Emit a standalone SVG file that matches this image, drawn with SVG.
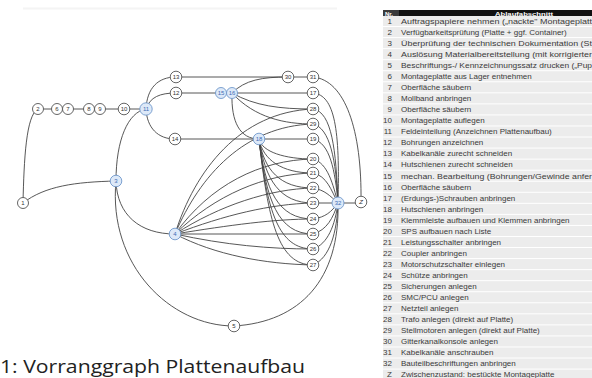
<svg xmlns="http://www.w3.org/2000/svg" width="592" height="378" viewBox="0 0 592 378">
<style>
.e{fill:none;stroke:#444;stroke-width:0.9}
.n circle{fill:#fff;stroke:#555;stroke-width:0.9}
.n text{font-family:"Liberation Sans",Arial,sans-serif;font-size:6px;fill:#333;text-anchor:middle}
.b circle{fill:#dde9f8;stroke:#7098cc}
.b text{fill:#3d6db5}
.rw{fill:#ececec}
.tn{font-family:"Liberation Sans",Arial,sans-serif;font-size:8px;fill:#3a3a3a;text-anchor:end}
.tt{font-family:"Liberation Sans",Arial,sans-serif;font-size:8px;fill:#3a3a3a}
.hd{font-family:"Liberation Sans",Arial,sans-serif;font-size:6px;font-weight:bold;fill:#fff}
</style>
<rect width="592" height="378" fill="#fff"/>
<rect x="23" y="7.5" width="314" height="2" fill="#f4f4f4"/>
<g id="connectors">
<path class="e" d="M23,203 C24,160 26,115 38,109"/>
<path class="e" d="M23,203 C45,186 75,182 116,181"/>
<path class="e" d="M38,109 H57 M68,109 H89 M100,109 H146"/>
<path class="e" d="M116,181 C116,140 128,112 146,109"/>
<path class="e" d="M116,181 C117,215 140,234 175,234"/>
<path class="e" d="M116,181 C108,265 170,326 234,326"/>
<path class="e" d="M146,109 C147,88 158,77 176,77"/>
<path class="e" d="M146,109 C150,97 160,93 176,93"/>
<path class="e" d="M146,109 C147,128 158,139 175,139"/>
<path class="e" d="M176,77 H313"/>
<path class="e" d="M176,93 H221 M232,93 H313"/>
<path class="e" d="M232,93 C245,80 262,77 288,77"/>
<path class="e" d="M232,93 C231,122 240,139 259,139"/>
<path class="e" d="M232,93 C255,106 280,109 313,109"/>
<path class="e" d="M232,93 C255,118 285,124 313,124"/>
<path class="e" d="M175,139 H313"/>
<path class="e" d="M259,139 C262,152 285,159 313,159"/>
<path class="e" d="M259,139 C263,160 282,173 313,173"/>
<path class="e" d="M259,139 C264,170 280,188 313,188"/>
<path class="e" d="M259,139 C265,180 280,203 313,203"/>
<path class="e" d="M259,139 C265,190 278,219 313,219"/>
<path class="e" d="M259,139 C266,200 278,234 313,234"/>
<path class="e" d="M259,139 C267,210 278,249 313,249"/>
<path class="e" d="M259,139 C268,220 278,265 313,265"/>
<path class="e" d="M175,234 C195,170 240,112 313,109"/>
<path class="e" d="M175,234 C200,175 245,126 313,124"/>
<path class="e" d="M175,234 C210,185 260,160 313,159"/>
<path class="e" d="M175,234 C215,195 265,174 313,173"/>
<path class="e" d="M175,234 C220,205 270,189 313,188"/>
<path class="e" d="M175,234 C225,215 270,204 313,203"/>
<path class="e" d="M175,234 C230,225 275,219 313,219"/>
<path class="e" d="M175,234 H313"/>
<path class="e" d="M175,234 C225,245 270,249 313,249"/>
<path class="e" d="M175,234 C215,255 265,264 313,265"/>
<path class="e" d="M313,93 C335,95 340,130 338,203"/>
<path class="e" d="M313,109 C332,112 336,150 338,203"/>
<path class="e" d="M313,124 C330,128 336,160 338,203"/>
<path class="e" d="M313,139 C330,143 335,170 338,203"/>
<path class="e" d="M313,159 C328,163 333,185 338,203"/>
<path class="e" d="M313,173 C327,176 331,190 338,203"/>
<path class="e" d="M313,188 C325,190 330,196 338,203"/>
<path class="e" d="M313,203 H361"/>
<path class="e" d="M313,219 C326,217 331,212 338,203"/>
<path class="e" d="M313,234 C327,230 333,218 338,203"/>
<path class="e" d="M313,249 C328,244 335,225 338,203"/>
<path class="e" d="M313,265 C330,258 337,232 338,203"/>
<path class="e" d="M234,326 C300,322 340,280 338,203"/>
<path class="e" d="M313,77 C345,80 362,130 361,202"/>
</g>
<g id="n1" class="n"><circle cx="23" cy="203" r="5.5"/><text x="23" y="205.2">1</text></g>
<g id="n2" class="n"><circle cx="38" cy="109" r="5.5"/><text x="38" y="111.2">2</text></g>
<g id="n6" class="n"><circle cx="57" cy="109" r="5.5"/><text x="57" y="111.2">6</text></g>
<g id="n7" class="n"><circle cx="68" cy="109" r="5.5"/><text x="68" y="111.2">7</text></g>
<g id="n8" class="n"><circle cx="89" cy="109" r="5.5"/><text x="89" y="111.2">8</text></g>
<g id="n9" class="n"><circle cx="100" cy="109" r="5.5"/><text x="100" y="111.2">9</text></g>
<g id="n10" class="n"><circle cx="124" cy="109" r="5.8"/><text x="124" y="111.2">10</text></g>
<g id="n11" class="n b"><circle cx="146" cy="109" r="6.2"/><text x="146" y="111.2">11</text></g>
<g id="n12" class="n"><circle cx="176" cy="93" r="5.8"/><text x="176" y="95.2">12</text></g>
<g id="n13" class="n"><circle cx="176" cy="77" r="5.8"/><text x="176" y="79.2">13</text></g>
<g id="n14" class="n"><circle cx="175" cy="139" r="5.8"/><text x="175" y="141.2">14</text></g>
<g id="n3" class="n b"><circle cx="116" cy="181" r="5.8"/><text x="116" y="183.2">3</text></g>
<g id="n4" class="n b"><circle cx="175" cy="234" r="5.8"/><text x="175" y="236.2">4</text></g>
<g id="n5" class="n"><circle cx="234" cy="326" r="5.8"/><text x="234" y="328.2">5</text></g>
<g id="n15" class="n b"><circle cx="221" cy="93" r="5.5"/><text x="221" y="95.2">15</text></g>
<g id="n16" class="n b"><circle cx="232" cy="93" r="5.5"/><text x="232" y="95.2">16</text></g>
<g id="n30" class="n"><circle cx="288" cy="77" r="5.8"/><text x="288" y="79.2">30</text></g>
<g id="n31" class="n"><circle cx="313" cy="77" r="5.8"/><text x="313" y="79.2">31</text></g>
<g id="n17" class="n"><circle cx="313" cy="93" r="5.8"/><text x="313" y="95.2">17</text></g>
<g id="n28" class="n"><circle cx="313" cy="109" r="5.8"/><text x="313" y="111.2">28</text></g>
<g id="n29" class="n"><circle cx="313" cy="124" r="5.8"/><text x="313" y="126.2">29</text></g>
<g id="n18" class="n b"><circle cx="259" cy="139" r="5.8"/><text x="259" y="141.2">18</text></g>
<g id="n19" class="n"><circle cx="313" cy="139" r="5.8"/><text x="313" y="141.2">19</text></g>
<g id="n20" class="n"><circle cx="313" cy="159" r="5.8"/><text x="313" y="161.2">20</text></g>
<g id="n21" class="n"><circle cx="313" cy="173" r="5.8"/><text x="313" y="175.2">21</text></g>
<g id="n22" class="n"><circle cx="313" cy="188" r="5.8"/><text x="313" y="190.2">22</text></g>
<g id="n23" class="n"><circle cx="313" cy="203" r="5.8"/><text x="313" y="205.2">23</text></g>
<g id="n24" class="n"><circle cx="313" cy="219" r="5.8"/><text x="313" y="221.2">24</text></g>
<g id="n25" class="n"><circle cx="313" cy="234" r="5.8"/><text x="313" y="236.2">25</text></g>
<g id="n26" class="n"><circle cx="313" cy="249" r="5.8"/><text x="313" y="251.2">26</text></g>
<g id="n27" class="n"><circle cx="313" cy="265" r="5.8"/><text x="313" y="267.2">27</text></g>
<g id="n32" class="n b"><circle cx="338" cy="203" r="6"/><text x="338" y="205.2">32</text></g>
<g id="nZ" class="n"><circle cx="361" cy="202" r="5.8"/><text x="361" y="204.2" font-style="italic">Z</text></g>
<text x="0" y="373" font-family="'Open Sans','Liberation Sans',sans-serif" font-size="19" fill="#222" textLength="305" lengthAdjust="spacingAndGlyphs">1: Vorranggraph Plattenaufbau</text>
<g id="table">
<rect x="383" y="10" width="209" height="7" fill="#111"/>
<rect x="383" y="10" width="16" height="7" fill="#3a3a3a"/>
<text class="hd" x="385" y="15.5">Nr.</text>
<text class="hd" x="524" y="15.5" text-anchor="middle" textLength="58" lengthAdjust="spacingAndGlyphs">Ablaufabschnitt</text>
<g id="rows">
<rect class="rw" x="383" y="16" width="209" height="10"/><text class="tn" x="392" y="23.8">1</text><text class="tt" x="401" y="23.8" textLength="191" lengthAdjust="spacingAndGlyphs">Auftragspapiere nehmen („nackte" Montageplatt</text>
<rect class="rw" x="383" y="27.05" width="209" height="10"/><text class="tn" x="392" y="34.85">2</text><text class="tt" x="401" y="34.85">Verfügbarkeitsprüfung (Platte + ggf. Container)</text>
<rect class="rw" x="383" y="38.1" width="209" height="10"/><text class="tn" x="392" y="45.9">3</text><text class="tt" x="401" y="45.9" textLength="191" lengthAdjust="spacingAndGlyphs">Überprüfung der technischen Dokumentation (St</text>
<rect class="rw" x="383" y="49.15" width="209" height="10"/><text class="tn" x="392" y="56.95">4</text><text class="tt" x="401" y="56.95" textLength="191" lengthAdjust="spacingAndGlyphs">Auslösung Materialbereitstellung (mit korrigierter</text>
<rect class="rw" x="383" y="60.2" width="209" height="10"/><text class="tn" x="392" y="68">5</text><text class="tt" x="401" y="68" textLength="191" lengthAdjust="spacingAndGlyphs">Beschriftungs-/ Kennzeichnungssatz drucken („Pup</text>
<rect class="rw" x="383" y="71.25" width="209" height="10"/><text class="tn" x="392" y="79.05">6</text><text class="tt" x="401" y="79.05">Montageplatte aus Lager entnehmen</text>
<rect class="rw" x="383" y="82.3" width="209" height="10"/><text class="tn" x="392" y="90.1">7</text><text class="tt" x="401" y="90.1">Oberfläche säubern</text>
<rect class="rw" x="383" y="93.35" width="209" height="10"/><text class="tn" x="392" y="101.15">8</text><text class="tt" x="401" y="101.15">Mollband anbringen</text>
<rect class="rw" x="383" y="104.4" width="209" height="10"/><text class="tn" x="392" y="112.2">9</text><text class="tt" x="401" y="112.2">Oberfläche säubern</text>
<rect class="rw" x="383" y="115.45" width="209" height="10"/><text class="tn" x="392" y="123.25">10</text><text class="tt" x="401" y="123.25">Montageplatte auflegen</text>
<rect class="rw" x="383" y="126.5" width="209" height="10"/><text class="tn" x="392" y="134.3">11</text><text class="tt" x="401" y="134.3">Feldeinteilung (Anzeichnen Plattenaufbau)</text>
<rect class="rw" x="383" y="137.55" width="209" height="10"/><text class="tn" x="392" y="145.35">12</text><text class="tt" x="401" y="145.35">Bohrungen anzeichnen</text>
<rect class="rw" x="383" y="148.6" width="209" height="10"/><text class="tn" x="392" y="156.4">13</text><text class="tt" x="401" y="156.4">Kabelkanäle zurecht schneiden</text>
<rect class="rw" x="383" y="159.65" width="209" height="10"/><text class="tn" x="392" y="167.45">14</text><text class="tt" x="401" y="167.45">Hutschienen zurecht schneiden</text>
<rect class="rw" x="383" y="170.7" width="209" height="10"/><text class="tn" x="392" y="178.5">15</text><text class="tt" x="401" y="178.5" textLength="191" lengthAdjust="spacingAndGlyphs">mechan. Bearbeitung (Bohrungen/Gewinde anfer</text>
<rect class="rw" x="383" y="181.75" width="209" height="10"/><text class="tn" x="392" y="189.55">16</text><text class="tt" x="401" y="189.55">Oberfläche säubern</text>
<rect class="rw" x="383" y="192.8" width="209" height="10"/><text class="tn" x="392" y="200.6">17</text><text class="tt" x="401" y="200.6">(Erdungs-)Schrauben anbringen</text>
<rect class="rw" x="383" y="203.85" width="209" height="10"/><text class="tn" x="392" y="211.65">18</text><text class="tt" x="401" y="211.65">Hutschienen anbringen</text>
<rect class="rw" x="383" y="214.9" width="209" height="10"/><text class="tn" x="392" y="222.7">19</text><text class="tt" x="401" y="222.7">Klemmleiste aufbauen und Klemmen anbringen</text>
<rect class="rw" x="383" y="225.95" width="209" height="10"/><text class="tn" x="392" y="233.75">20</text><text class="tt" x="401" y="233.75">SPS aufbauen nach Liste</text>
<rect class="rw" x="383" y="237" width="209" height="10"/><text class="tn" x="392" y="244.8">21</text><text class="tt" x="401" y="244.8">Leistungsschalter anbringen</text>
<rect class="rw" x="383" y="248.05" width="209" height="10"/><text class="tn" x="392" y="255.85">22</text><text class="tt" x="401" y="255.85">Coupler anbringen</text>
<rect class="rw" x="383" y="259.1" width="209" height="10"/><text class="tn" x="392" y="266.9">23</text><text class="tt" x="401" y="266.9">Motorschutzschalter einlegen</text>
<rect class="rw" x="383" y="270.15" width="209" height="10"/><text class="tn" x="392" y="277.95">24</text><text class="tt" x="401" y="277.95">Schütze anbringen</text>
<rect class="rw" x="383" y="281.2" width="209" height="10"/><text class="tn" x="392" y="289">25</text><text class="tt" x="401" y="289">Sicherungen anlegen</text>
<rect class="rw" x="383" y="292.25" width="209" height="10"/><text class="tn" x="392" y="300.05">26</text><text class="tt" x="401" y="300.05">SMC/PCU anlegen</text>
<rect class="rw" x="383" y="303.3" width="209" height="10"/><text class="tn" x="392" y="311.1">27</text><text class="tt" x="401" y="311.1">Netzteil anlegen</text>
<rect class="rw" x="383" y="314.35" width="209" height="10"/><text class="tn" x="392" y="322.15">28</text><text class="tt" x="401" y="322.15">Trafo anlegen (direkt auf Platte)</text>
<rect class="rw" x="383" y="325.4" width="209" height="10"/><text class="tn" x="392" y="333.2">29</text><text class="tt" x="401" y="333.2">Stellmotoren anlegen (direkt auf Platte)</text>
<rect class="rw" x="383" y="336.45" width="209" height="10"/><text class="tn" x="392" y="344.25">30</text><text class="tt" x="401" y="344.25">Gitterkanalkonsole anlegen</text>
<rect class="rw" x="383" y="347.5" width="209" height="10"/><text class="tn" x="392" y="355.3">31</text><text class="tt" x="401" y="355.3">Kabelkanäle anschrauben</text>
<rect class="rw" x="383" y="358.55" width="209" height="10"/><text class="tn" x="392" y="366.35">32</text><text class="tt" x="401" y="366.35">Bauteilbeschriftungen anbringen</text>
<rect class="rw" x="383" y="369.6" width="209" height="10"/><text class="tn" x="392" y="377.4">Z</text><text class="tt" x="401" y="377.4">Zwischenzustand: bestückte Montageplatte</text>
</g>
</g>
</svg>
